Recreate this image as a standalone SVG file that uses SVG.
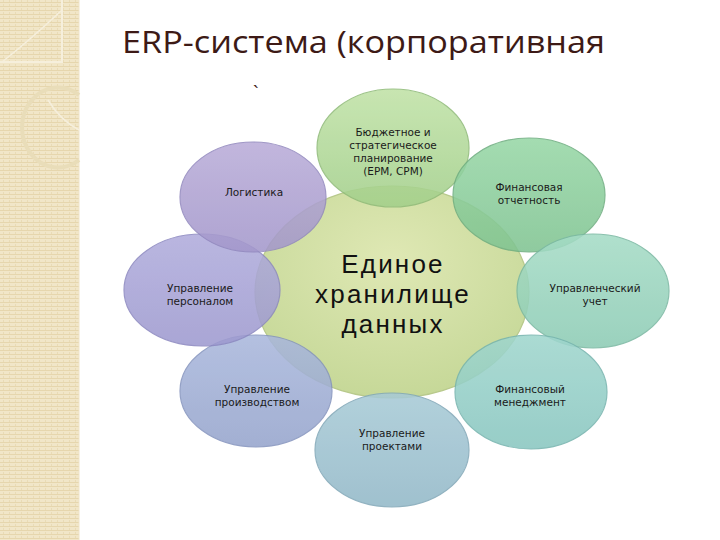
<svg xmlns="http://www.w3.org/2000/svg" width="720" height="540" viewBox="0 0 720 540">
<defs>
<pattern id="stripes" width="6" height="4" patternUnits="userSpaceOnUse">
<rect width="6" height="4" fill="#f1e6c8"/>
<rect y="2" width="6" height="1" fill="#e6d6ad"/>
<rect x="3" width="1" height="2" fill="#e9dbb6"/>
</pattern>
<radialGradient id="gC" cx="0.5" cy="0.35" r="0.65"><stop offset="0" stop-color="#dfe8b4"/><stop offset="1" stop-color="#c6d898"/></radialGradient>
<linearGradient id="g1" x1="0" y1="0" x2="0" y2="1"><stop offset="0" stop-color="#c0e2a6"/><stop offset="1" stop-color="#a2cf8a"/></linearGradient>
<linearGradient id="g2" x1="0" y1="0" x2="0" y2="1"><stop offset="0" stop-color="#97d7a6"/><stop offset="1" stop-color="#7fc391"/></linearGradient>
<linearGradient id="g3" x1="0" y1="0" x2="0" y2="1"><stop offset="0" stop-color="#a5dcc6"/><stop offset="1" stop-color="#8ccbb4"/></linearGradient>
<linearGradient id="g4" x1="0" y1="0" x2="0" y2="1"><stop offset="0" stop-color="#9fd6cd"/><stop offset="1" stop-color="#88c6c0"/></linearGradient>
<linearGradient id="g5" x1="0" y1="0" x2="0" y2="1"><stop offset="0" stop-color="#a7cad6"/><stop offset="1" stop-color="#92b8c8"/></linearGradient>
<linearGradient id="g6" x1="0" y1="0" x2="0" y2="1"><stop offset="0" stop-color="#a9b7dc"/><stop offset="1" stop-color="#95a4cc"/></linearGradient>
<linearGradient id="g7" x1="0" y1="0" x2="0" y2="1"><stop offset="0" stop-color="#b0acdc"/><stop offset="1" stop-color="#9d99cf"/></linearGradient>
<linearGradient id="g8" x1="0" y1="0" x2="0" y2="1"><stop offset="0" stop-color="#b9acd8"/><stop offset="1" stop-color="#a397cb"/></linearGradient>
</defs>
<style>
.node ellipse{stroke-width:1.2;opacity:0.87}
.lbl{font-family:"DejaVu Sans",sans-serif;font-size:10.5px;fill:#1a1a1a;text-anchor:middle}
.big{font-family:"Liberation Sans",Arial,sans-serif;font-size:26px;letter-spacing:2.2px;fill:#111;text-anchor:middle}
.title{font-family:"Open Sans","DejaVu Sans",sans-serif;font-size:31px;fill:#3d1a16}
</style>
<rect width="720" height="540" fill="#ffffff"/>
<g id="sidebar">
<rect x="0" y="0" width="79" height="540" fill="url(#stripes)"/>
<line x1="79" y1="0" x2="79" y2="540" stroke="#efe4c8" stroke-width="1"/>
<path d="M0 62 H62 L62 0" fill="none" stroke="#f6efdc" stroke-width="2"/>
<path d="M2 62 Q30 40 62 10" fill="none" stroke="#f6efdc" stroke-width="1.5"/>
<path d="M79 95 A36 40 0 1 0 79 160" fill="none" stroke="#e9ddb9" stroke-width="4"/>
<path d="M48 100 Q60 120 79 130" fill="none" stroke="#f6efdc" stroke-width="1.5"/>
</g>
<g id="title">
<text class="title" x="122" y="53" textLength="483" lengthAdjust="spacingAndGlyphs">ERP-система (корпоративная</text>
<text class="title" x="253" y="100" style="font-size:20px">`</text>
</g>
<g id="center" class="node">
<ellipse cx="392" cy="292" rx="137" ry="106" fill="url(#gC)" stroke="#b8c98c" style="opacity:1"/>
</g>
<g id="n-top" class="node"><ellipse cx="393" cy="148" rx="76" ry="59" fill="url(#g1)" stroke="#8fbb78"/>
<text class="lbl" x="393" y="136">Бюджетное  и</text><text class="lbl" x="393" y="149">стратегическое</text><text class="lbl" x="393" y="162">планирование</text><text class="lbl" x="393" y="175">(EPM, CPM)</text></g>
<g id="n-fin-rep" class="node"><ellipse cx="529" cy="195" rx="76" ry="57" fill="url(#g2)" stroke="#6fae80"/>
<text class="lbl" x="529" y="191">Финансовая</text><text class="lbl" x="529" y="204">отчетность</text></g>
<g id="n-upr-uchet" class="node"><ellipse cx="593" cy="291" rx="76" ry="57" fill="url(#g3)" stroke="#7ab8a2"/>
<text class="lbl" x="595" y="292">Управленческий</text><text class="lbl" x="595" y="305">учет</text></g>
<g id="n-fin-man" class="node"><ellipse cx="531" cy="392" rx="76" ry="57" fill="url(#g4)" stroke="#76b4ae"/>
<text class="lbl" x="530" y="393">Финансовый</text><text class="lbl" x="530" y="406">менеджмент</text></g>
<g id="n-proj" class="node"><ellipse cx="392" cy="450" rx="77" ry="57" fill="url(#g5)" stroke="#82a8b8"/>
<text class="lbl" x="392" y="437">Управление</text><text class="lbl" x="392" y="450">проектами</text></g>
<g id="n-prod" class="node"><ellipse cx="256" cy="391" rx="76" ry="56" fill="url(#g6)" stroke="#8594be"/>
<text class="lbl" x="257" y="393">Управление</text><text class="lbl" x="257" y="406">производством</text></g>
<g id="n-pers" class="node"><ellipse cx="202" cy="290" rx="78" ry="56" fill="url(#g7)" stroke="#8c88c0"/>
<text class="lbl" x="200" y="292">Управление</text><text class="lbl" x="200" y="305">персоналом</text></g>
<g id="n-log" class="node"><ellipse cx="253" cy="197" rx="73" ry="55" fill="url(#g8)" stroke="#9288be"/>
<text class="lbl" x="254" y="196">Логистика</text></g>
<g id="center-text">
<text class="big" x="393" y="273">Единое</text>
<text class="big" x="393" y="303">хранилище</text>
<text class="big" x="393" y="333">данных</text>
</g>
<g id="connectors"></g>
</svg>
